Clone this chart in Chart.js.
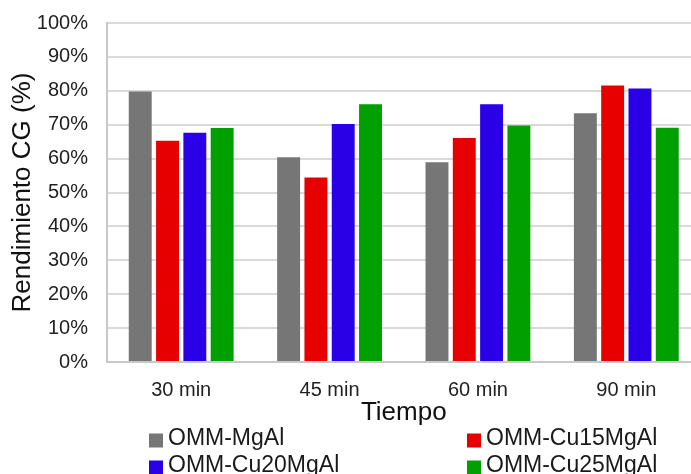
<!DOCTYPE html>
<html>
<head>
<meta charset="utf-8">
<script src="https://cdn.jsdelivr.net/npm/chart.js@4"></script>
<style>
  html, body { margin: 0; padding: 0; background: #fff; overflow: hidden; }
  #wrap { width: 712px; height: 474px; }
</style>
</head>
<body>
<div id="wrap"><canvas id="c" width="712" height="474"></canvas></div>
<script>
// Reaction time categories and catalyst yields (%)
const categories = ['30 min', '45 min', '60 min', '90 min'];
const seriesNames = ['OMM-MgAl', 'OMM-Cu15MgAl', 'OMM-Cu20MgAl', 'OMM-Cu25MgAl'];
const mgAl     = [79.8, 60.4, 58.9, 73.4];
const cu15MgAl = [65.3, 54.4, 66.1, 81.6];
const cu20MgAl = [67.6, 70.2, 76.0, 80.7];
const cu25MgAl = [69.0, 76.0, 69.8, 69.1];
const seriesColors = ['#767676', '#e60000', '#2a00e6', '#00a000'];

Chart.defaults.font.family = '"Liberation Sans", Arial, sans-serif';

// Two-column legend drawn below the x axis title
const gridLegend = {
  id: 'gridLegend',
  afterDraw(chart, args, opts) {
    const ctx = chart.ctx;
    ctx.save();
    ctx.font = opts.fontSize + 'px "Liberation Sans", Arial, sans-serif';
    ctx.textBaseline = 'middle';
    ctx.textAlign = 'left';
    chart.data.datasets.forEach((ds, i) => {
      const x = opts.columns[i % 2];
      const y = opts.rows[Math.floor(i / 2)];
      ctx.fillStyle = ds.backgroundColor;
      ctx.fillRect(x, y - opts.box / 2 + 2, opts.box, opts.box);
      ctx.fillStyle = opts.color;
      ctx.fillText(ds.label, x + opts.box + 5, y);
    });
    ctx.restore();
  }
};

const seriesValues = [mgAl, cu15MgAl, cu20MgAl, cu25MgAl];

new Chart(document.getElementById('c'), {
  type: 'bar',
  data: {
    labels: categories,
    datasets: seriesNames.map((name, i) => ({
      label: name,
      data: seriesValues[i],
      backgroundColor: seriesColors[i],
      categoryPercentage: 0.736,
      barPercentage: 0.84
    }))
  },
  options: {
    responsive: false,
    animation: false,
    layout: { padding: { left: 0, right: 11.5, top: 23, bottom: 46 } },
    plugins: {
      legend: { display: false },
      tooltip: { enabled: false },
      gridLegend: {
        columns: [149, 467],
        rows: [438.5, 465.5],
        box: 14,
        fontSize: 23,
        color: '#1a1a1a'
      }
    },
    scales: {
      x: {
        grid: { display: false, drawTicks: false },
        border: { color: '#c8c8c8', width: 2 },
        ticks: { padding: 16, font: { size: 20 }, color: '#222' },
        title: {
          display: true, text: 'Tiempo', color: '#111',
          font: { size: 26 }, padding: { top: 0, bottom: 0 }
        },
        afterFit(scale) { scale.height = 66; }
      },
      y: {
        min: 0, max: 100,
        ticks: {
          stepSize: 10, padding: 19, font: { size: 20 }, color: '#222',
          callback: v => v + '%'
        },
        grid: { color: '#d9d9d9', lineWidth: 2, drawTicks: false },
        border: { color: '#c8c8c8', width: 2 },
        title: {
          display: true, text: 'Rendimiento CG (%)', color: '#111',
          font: { size: 26 }, padding: { top: 7, bottom: 0 }
        },
        afterFit(scale) {
          scale.width = 107;
          scale.paddingTop = 0;
          scale.paddingBottom = 0;
        }
      }
    }
  },
  plugins: [gridLegend]
});
</script>
</body>
</html>
